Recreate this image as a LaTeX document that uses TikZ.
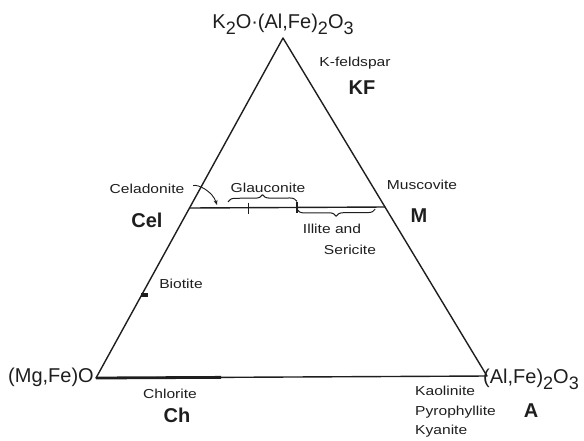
\documentclass[tikz,border=0pt]{standalone}
\usepackage{fontspec}
\setmainfont{Liberation Sans}
\newfontfamily\lettering[FakeStretch=1.2]{Liberation Sans}
\usetikzlibrary{arrows.meta,calc,decorations.pathreplacing}
\definecolor{ink}{HTML}{1E1E1E}
\newcommand{\low}[1]{\raisebox{-0.3em}{\scalebox{0.9}{#1}}}

\begin{document}
\begin{tikzpicture}[
  x=1pt, y=-1pt, line join=round,
  side/.style={draw=ink, line width=1.4pt},
  solidpart/.style={draw=ink, line width=2.8pt},
  tickmark/.style={draw=ink, line width=1.1pt},
  span/.style={draw=ink, line width=1pt, decorate, decoration={brace, amplitude=7pt}},
  formula/.style={anchor=base, text=ink, inner sep=0pt, font=\fontsize{20}{24}\selectfont},
  mineral/.style={anchor=base, text=ink, inner sep=0pt, font=\lettering\fontsize{13}{15}\selectfont},
  endmember/.style={anchor=base, text=ink, inner sep=0pt, font=\bfseries\fontsize{20}{24}\selectfont}
]
\useasboundingbox (0,0) rectangle (584,440);

\coordinate (KF) at (283,38);
\coordinate (Ch) at (96,378);
\coordinate (A) at (487,376);
\coordinate (Cel) at ($(Ch)!0.5!(KF)$);
\coordinate (M) at ($(A)!0.5!(KF)$);
\coordinate (chlEnd) at ($(Ch)!0.32!(A)$);
\coordinate (bt) at ($(Ch)!0.245!(KF)$);
\coordinate (g0) at ($(Cel)!0.197!(M)$);
\coordinate (g1) at ($(Cel)!0.30!(M)$);
\coordinate (g2) at ($(Cel)!0.55!(M)$);
\coordinate (i1) at ($(Cel)!0.95!(M)$);

\draw[side] (KF) -- (Ch) -- (A) -- cycle;
\draw[side] (Cel) -- (M);
\draw[solidpart] (Ch) -- (chlEnd);
\fill[ink] ($(bt)+(-1,-2)$) rectangle ++(7,4);
\foreach \p in {g1,g2} {\draw[tickmark] ($(\p)+(0,-5)$) -- ($(\p)+(0,6)$);}
\draw[span] ($(g0)+(0,-6)$) -- ($(g2)+(0,-6)$);
\draw[span] ($(i1)+(0,2)$) -- ($(g2)+(0,2)$);

\node[formula] (kfLbl) at (283,28) {K\low{2}O·(Al,Fe)\low{2}O\low{3}};
\node[mineral] (kfsp) at (355,66) {K-feldspar};
\node[endmember] (kfName) at (362,94) {KF};

\node[mineral] (celLbl) at (147,193) {Celadonite};
\node[endmember] (celName) at (147,227) {Cel};
\coordinate (celTip) at (217,205);
\draw[ink, line width=0.9pt, -{Stealth[length=5pt,width=4pt]}, shorten <=9pt]
  (celLbl.east) to[bend left=45] (celTip);
\node[mineral] (glc) at (268,192) {Glauconite};
\node[mineral] (msc) at (422,189) {Muscovite};
\node[endmember] (mName) at (419,222) {M};
\node[mineral] (ill) at (332,233) {Illite and};
\node[mineral] (ser) at (350,254) {Sericite};
\node[mineral] (bio) at (181,288) {Biotite};

\node[formula] (mgLbl) at (51,382) {(Mg,Fe)O};
\node[mineral] (chl) at (170,398) {Chlorite};
\node[endmember] (chName) at (177,422) {Ch};

\node[formula] (alLbl) at (531,383) {(Al,Fe)\low{2}O\low{3}};
\foreach \y/\name in {395/Kaolinite, 415/Pyrophyllite, 434/Kyanite} {
  \node[mineral, anchor=base west] (al\y) at (415,\y) {\name};
}
\node[endmember] (aName) at (531,417) {A};
\end{tikzpicture}
\end{document}
